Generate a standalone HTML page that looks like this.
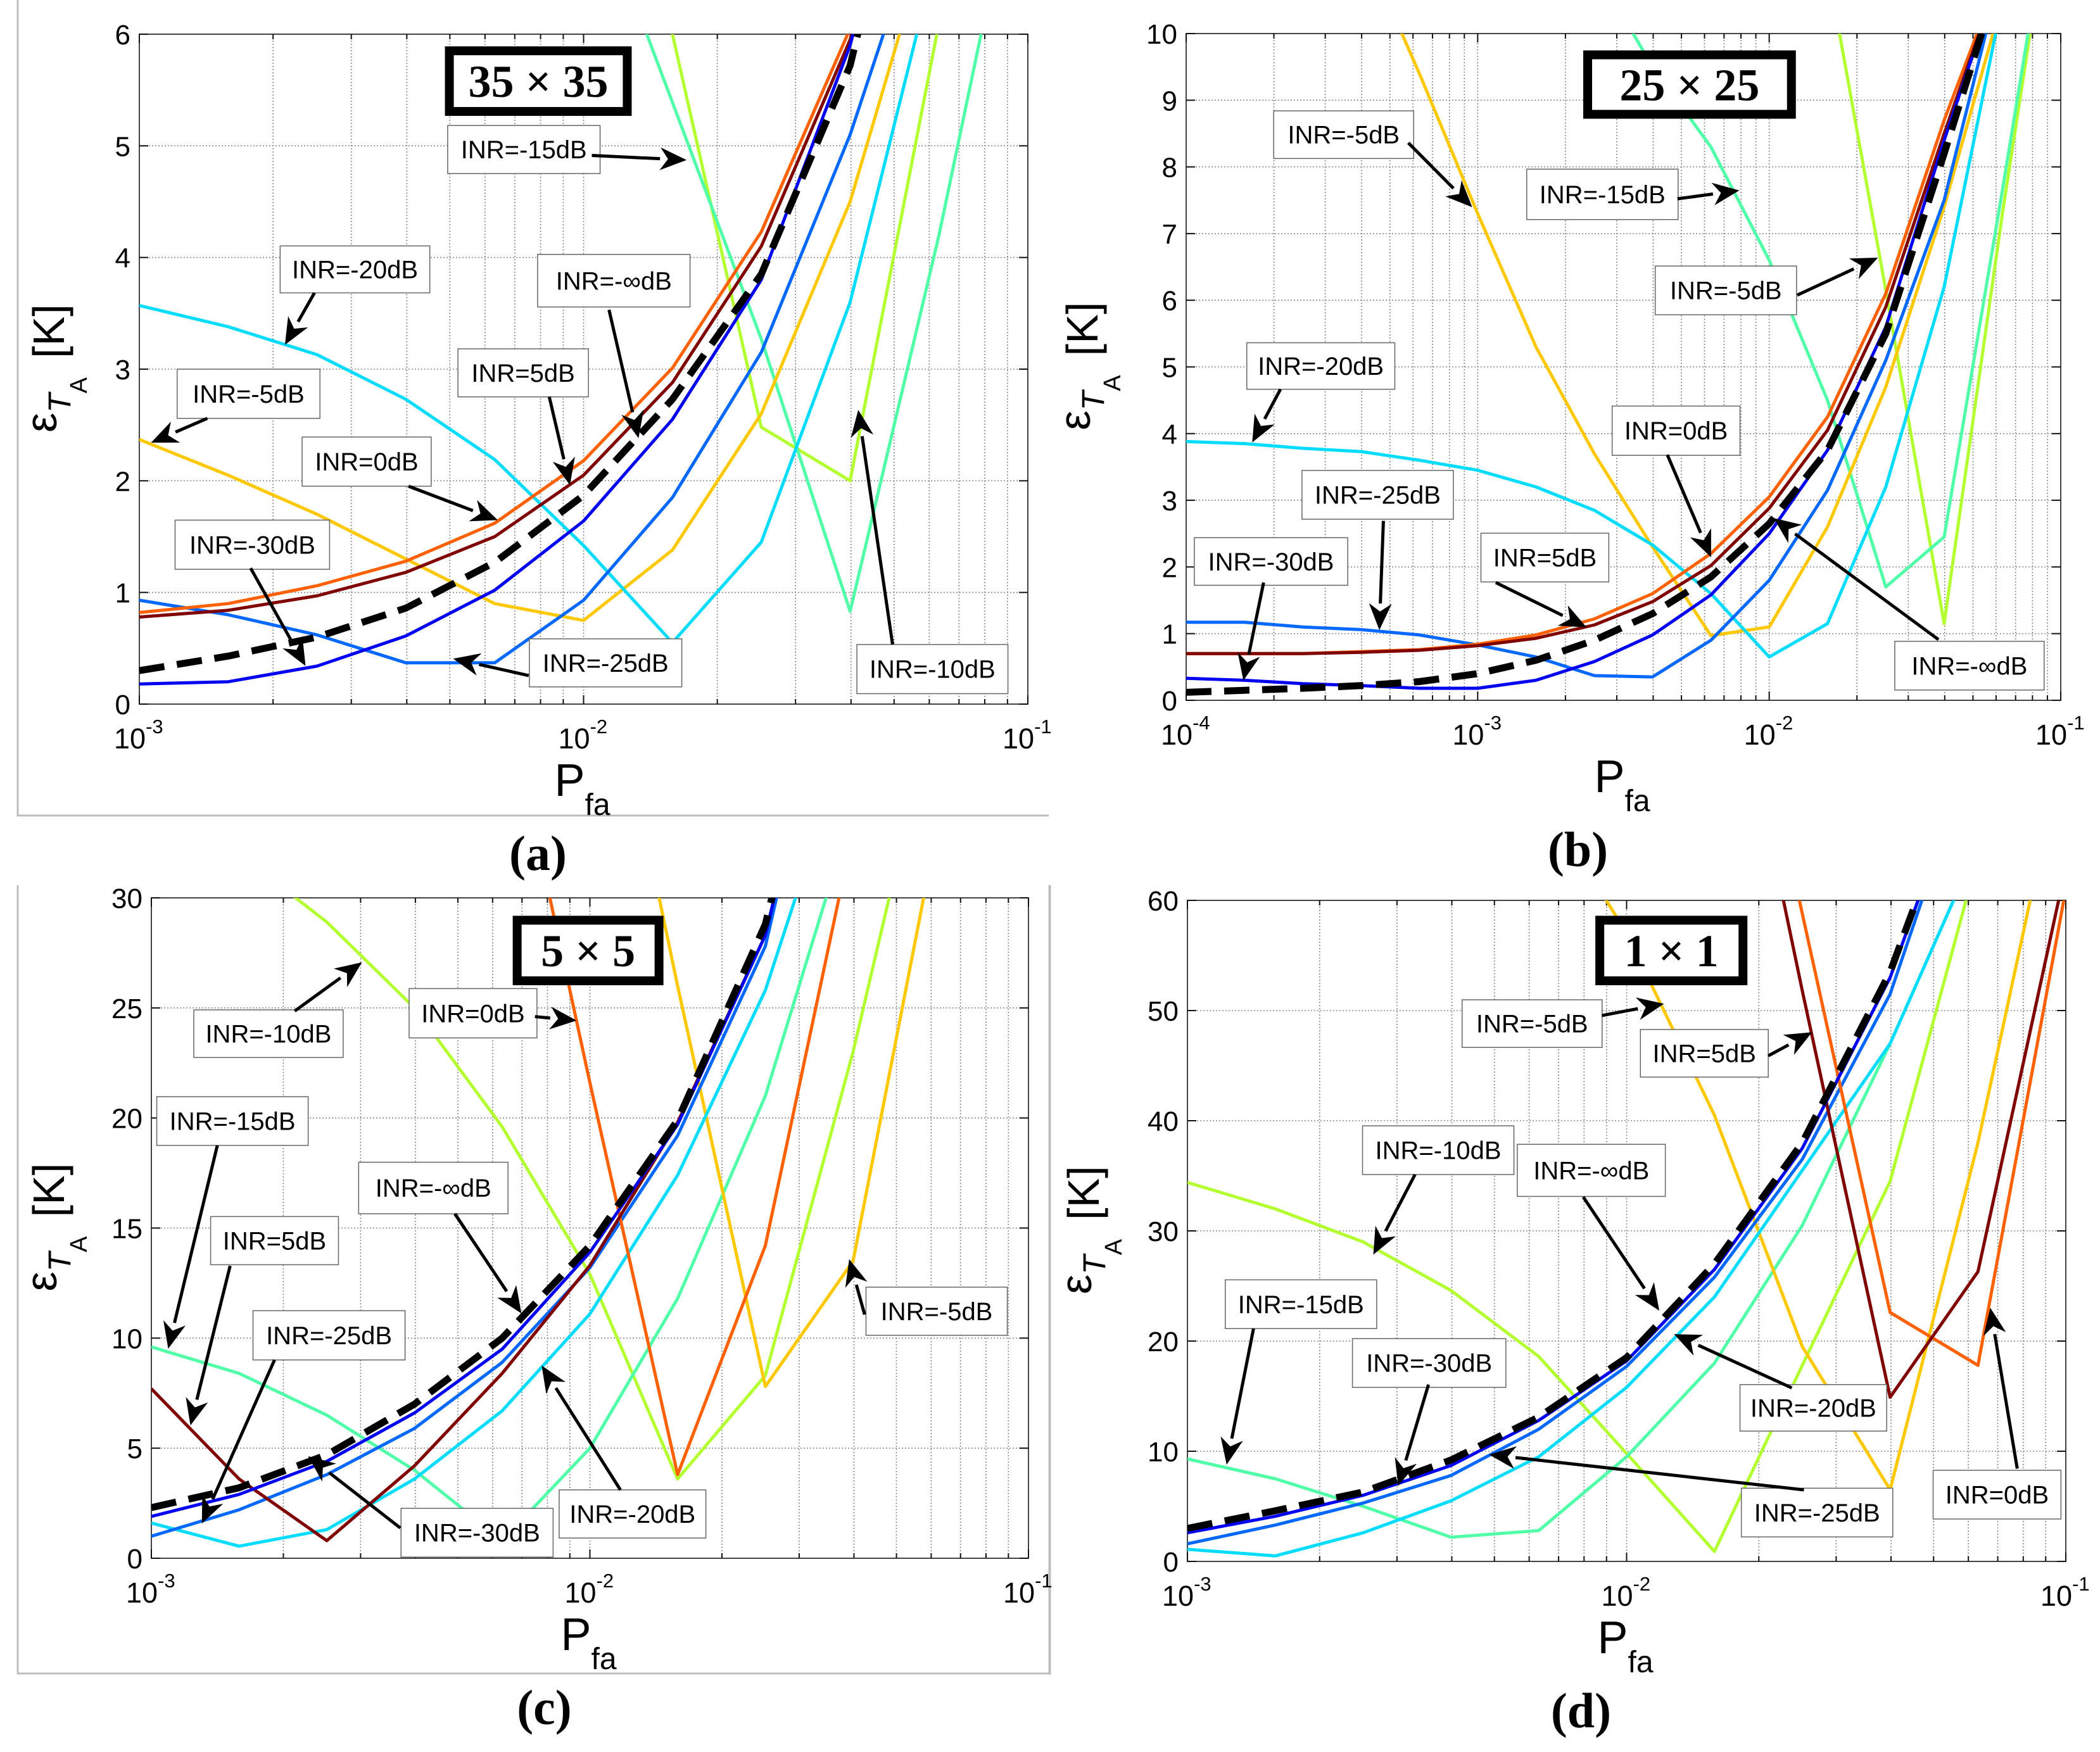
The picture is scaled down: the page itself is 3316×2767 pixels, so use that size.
<!DOCTYPE html>
<html><head><meta charset="utf-8">
<style>
html,body{margin:0;padding:0;background:#fff;}
svg{display:block;}
text{font-family:"Liberation Sans",Arial,sans-serif;}
</style></head>
<body>
<svg id="fig" xmlns="http://www.w3.org/2000/svg" width="3316" height="2767" viewBox="0 0 3316 2767">
<rect width="3316" height="2767" fill="#fff"/>
<g stroke="#bdbdbd" stroke-width="3" fill="none">
<path d="M28 0 V1288 H1656"/>
<path d="M28 1398 V2643 H1657 V1398"/>
<path d="M1658 1398 V2645"/>
</g>
</svg>
<script>
// ---------- data (Pfa grid as log10 values) ----------
const xsA = [-3,-2.8,-2.6,-2.4,-2.2,-2,-1.8,-1.6,-1.4,-1.2,-1];
const xsB = [-4,-3.8,-3.6,-3.4,-3.2,-3,-2.8,-2.6,-2.4,-2.2,-2,-1.8,-1.6,-1.4,-1.2,-1];
const xsC = [-3,-2.8,-2.6,-2.4,-2.2,-2,-1.8,-1.6,-1.4,-1.2,-1];
const xsD = [-3,-2.8,-2.6,-2.4,-2.2,-2,-1.8,-1.6,-1.4,-1.2,-1];

const a_inr5   = [0.78,0.84,0.97,1.18,1.5,2.05,2.88,4.1,5.95,9,12];
const a_inr0   = [0.82,0.9,1.06,1.28,1.62,2.18,3.01,4.23,6.05,9,12];
const a_inrm5  = [2.37,2.05,1.7,1.3,0.9,0.75,1.38,2.6,4.5,7.2,10];
const a_inrm10 = [14,13,12,11,10.5,9.5,6.0,2.48,2.0,6.1,10];
const a_inrm15 = [12,11,10,9,8.5,7.5,5.39,3.27,0.83,4.2,8];
const a_inrm20 = [3.57,3.38,3.13,2.73,2.19,1.42,0.55,1.45,3.6,6.8,10];
const a_inrm25 = [0.93,0.8,0.62,0.37,0.37,0.93,1.85,3.15,5.1,7.5,10];
const a_inrm30 = [0.18,0.2,0.34,0.61,1.02,1.64,2.55,3.8,5.9,9,12];
const a_inrinf = [0.3,0.43,0.6,0.86,1.27,1.87,2.73,3.85,5.72,9,12];

const b_inr5   = [0.7,0.7,0.7,0.72,0.75,0.82,0.93,1.13,1.48,2.02,2.88,4.05,5.9,8.5,11,14];
const b_inr0   = [0.7,0.7,0.7,0.73,0.76,0.84,0.98,1.22,1.6,2.2,3.05,4.25,6.1,8.7,11,14];
const b_inrm5  = [16,15,13.5,11.4,9.4,7.3,5.3,3.7,2.3,0.97,1.1,2.6,4.7,7.4,10.5,14];
const b_inrm10 = [20,19,18,17,16,15,14,13,12.5,12,11.5,11,6.15,1.15,7.3,13];
const b_inrm15 = [16,15.5,15,14.5,14,13.5,13,11,9.5,8.3,6.6,4.5,1.7,2.45,7.65,13];
const b_inrm20 = [3.88,3.85,3.78,3.73,3.6,3.45,3.2,2.85,2.33,1.6,0.65,1.15,3.2,6.2,10.5,14];
const b_inrm25 = [1.17,1.17,1.1,1.06,0.98,0.83,0.65,0.37,0.35,0.9,1.8,3.15,5.1,7.5,11,14];
const b_inrm30 = [0.33,0.3,0.25,0.22,0.18,0.18,0.3,0.58,0.98,1.58,2.5,3.75,5.6,8.4,11,14];
const b_inrinf = [0.12,0.15,0.18,0.22,0.28,0.4,0.6,0.9,1.3,1.85,2.65,3.75,5.5,8.2,11,14];

const c_inr5   = [7.7,3.6,0.8,4.2,8.4,13.3,19.8,28.3,45,60,80];
const c_inr0   = [60,55,50,45,40,21.6,3.8,14.2,33,50,70];
const c_inrm5  = [70,65,60,55,50,45,26,7.8,13.5,34,50];
const c_inrm10 = [36,32,28.9,25,19.6,12.9,3.6,8.3,23,40,55];
const c_inrm15 = [9.6,8.4,6.5,4.0,0.8,5.0,11.8,21,34,50,65];
const c_inrm20 = [1.6,0.55,1.3,3.6,6.7,11.1,17.4,25.8,38,55,70];
const c_inrm25 = [1.0,2.2,3.8,5.9,8.9,13.2,19.2,27.8,45,60,80];
const c_inrm30 = [1.9,2.9,4.4,6.6,9.5,13.9,19.7,28.3,45,60,80];
const c_inrinf = [2.3,3.2,4.7,7.0,10,14.2,19.9,28.8,45,60,80];

const d_inr5   = [140,130,120,110,100,95,90,51.8,14.9,26.3,63];
const d_inr0   = [140,130,120,110,100,97,95,58.8,22.6,17.8,61];
const d_inrm5  = [110,100,90,80,70,57,40.5,19.5,6.5,38,75];
const d_inrm10 = [34.4,32,29,24.6,18.6,9.8,0.9,17.8,34.5,64,90];
const d_inrm15 = [9.3,7.5,5.0,2.2,2.8,9.5,18,30.5,47,65,90];
const d_inrm20 = [1.1,0.5,2.6,5.5,9.5,15.8,24,35.5,47,65,90];
const d_inrm25 = [1.6,3.3,5.3,7.8,12,17.7,25.8,36.5,51.5,75,100];
const d_inrm30 = [2.6,4.1,6.0,8.7,12.8,18.2,26.5,37.5,53,75,100];
const d_inrinf = [3.0,4.6,6.3,9.2,13.1,18.5,27,38,53.5,75,100];

const yTicksA = [0,1,2,3,4,5,6];
const yTicksB = [0,1,2,3,4,5,6,7,8,9,10];
const yTicksC = [0,5,10,15,20,25,30];
const yTicksD = [0,10,20,30,40,50,60];

// ---------- rendering ----------
const NS = 'http://www.w3.org/2000/svg';
const svg = document.getElementById('fig');
function mk(tag, attrs, parent){
  const e = document.createElementNS(NS, tag);
  for (const k in attrs) e.setAttribute(k, attrs[k]);
  (parent||svg).appendChild(e);
  return e;
}
const COL = {inr5:'#800000', inr0:'#ff6000', inrm5:'#ffc800', inrm10:'#b4ff32', inrm15:'#50ffa8', inrm20:'#00dcff', inrm25:'#0068ff', inrm30:'#0000f0'};

const panels = [
 {id:'a', L:220,R:1623,T:54,B:1112, xmin:-3,xmax:-1, ymax:6, yt:yTicksA, xs:xsA, ylx:101,
  s:{inr5:a_inr5,inr0:a_inr0,inrm5:a_inrm5,inrm10:a_inrm10,inrm15:a_inrm15,inrm20:a_inrm20,inrm25:a_inrm25,inrm30:a_inrm30,inf:a_inrinf},
  tf:[0,0,1700/1568,1400/1568], title:'35 × 35', titleBox:[648,82,272,123], cap:'(a)',
  ann:[[652,222,222,85,'INR=-15dB',862,275,1000,283],[408,435,218,83,'INR=-20dB',458,518,415,610],
       [783,450,222,93,'INR=-∞dB',887,548,930,775],[667,617,190,85,'INR=5dB',800,702,830,858],
       [258,653,208,87,'INR=-5dB',302,740,220,783],[440,773,188,87,'INR=0dB',595,860,725,920],
       [255,920,225,87,'INR=-30dB',365,1005,445,1178],[771,1130,222,85,'INR=-25dB',770,1195,660,1165],
       [1248,1140,220,87,'INR=-10dB',1300,1140,1250,725]]},
 {id:'b', L:1873,R:3254,T:53,B:1106, xmin:-4,xmax:-1, ymax:10, yt:yTicksB, xs:xsB, ylx:1733,
  s:{inr5:b_inr5,inr0:b_inr0,inrm5:b_inrm5,inrm10:b_inrm10,inrm15:b_inrm15,inrm20:b_inrm20,inrm25:b_inrm25,inrm30:b_inrm30,inf:b_inrinf},
  tf:[1650,0,1666/1568,1387/1568], title:'25 × 25', titleBox:[800,90,316,122], cap:'(b)',
  ann:[[340,198,208,85,'INR=-5dB',540,255,635,370],[716,302,225,90,'INR=-15dB',940,355,1032,340],
       [907,475,210,87,'INR=-5dB',1118,527,1238,460],[300,612,220,83,'INR=-20dB',350,695,308,790],
       [843,725,190,88,'INR=0dB',925,812,990,995],[382,840,225,87,'INR=-25dB',503,930,497,1125],
       [222,960,228,85,'INR=-30dB',325,1040,295,1215],[648,952,190,87,'INR=5dB',670,1040,805,1120],
       [1263,1145,222,87,'INR=-∞dB',1328,1142,1083,925]]},
 {id:'c', L:239,R:1624,T:1418,B:2461, xmin:-3,xmax:-1, ymax:30, yt:yTicksC, xs:xsC, ylx:101,
  s:{inr5:c_inr5,inr0:c_inr0,inrm5:c_inrm5,inrm10:c_inrm10,inrm15:c_inrm15,inrm20:c_inrm20,inrm25:c_inrm25,inrm30:c_inrm30,inf:c_inrinf},
  tf:[0,1380,1666/1568,1387/1568], title:'5 × 5', titleBox:[762,75,224,124], cap:'(c)',
  ann:[[288,243,222,85,'INR=-10dB',438,245,538,158],[608,205,190,88,'INR=0dB',795,255,857,262],
       [233,398,225,87,'INR=-15dB',323,485,250,848],[533,515,222,92,'INR=-∞dB',676,607,775,785],
       [313,612,190,86,'INR=5dB',342,700,283,985],[376,780,226,88,'INR=-25dB',408,868,300,1160],
       [1287,738,210,86,'INR=-5dB',1285,787,1262,688],[596,1133,226,87,'INR=-30dB',595,1168,458,1040],
       [831,1100,218,86,'INR=-20dB',922,1100,805,878]]},
 {id:'d', L:1875,R:3262,T:1422,B:2466, xmin:-3,xmax:-1, ymax:60, yt:yTicksD, xs:xsD, ylx:1735,
  s:{inr5:d_inr5,inr0:d_inr0,inrm5:d_inrm5,inrm10:d_inrm10,inrm15:d_inrm15,inrm20:d_inrm20,inrm25:d_inrm25,inrm30:d_inrm30,inf:d_inrinf},
  tf:[1650,1380,1666/1568,1387/1568], title:'1 × 1', titleBox:[818,75,226,124], cap:'(d)',
  ann:[[620,225,208,85,'INR=-5dB',828,253,920,232],[885,278,190,85,'INR=5dB',1075,325,1140,283],
       [472,450,225,87,'INR=-10dB',550,537,488,680],[702,483,220,93,'INR=-∞dB',800,577,913,780],
       [268,725,225,87,'INR=-15dB',310,812,270,1055],[457,830,228,87,'INR=-30dB',570,912,525,1093],
       [1033,912,218,83,'INR=-20dB',1110,918,935,822],[1035,1097,225,87,'INR=-25dB',1128,1100,660,1037],
       [1320,1065,190,87,'INR=0dB',1445,1062,1405,775]]}
];

const defs = mk('defs', {});
panels.forEach(p => {
  const xScale = v => p.L + (v - p.xmin) / (p.xmax - p.xmin) * (p.R - p.L);
  const yScale = v => p.B - v / p.ymax * (p.B - p.T);
  const tx = x => p.tf[0] + x * p.tf[2];
  const ty = y => p.tf[1] + y * p.tf[3];
  const g = mk('g', {});
  
  

  const cp = mk('clipPath', {id: 'clip-' + p.id}, defs);
  mk('rect', {x:p.L, y:p.T, width:p.R-p.L, height:p.B-p.T}, cp);

  // grid
  const grid = mk('g', {stroke:'#8a8a8a', 'stroke-width':1.6, 'stroke-dasharray':'2 3', fill:'none'}, g);
  
  
  for (let d = p.xmin; d < p.xmax; d++) {
    for (let m = 1; m <= 9; m++) {
      const X = xScale(d + Math.log10(m));
      if (m > 1 || d > p.xmin) mk('line', {x1:X, y1:p.T, x2:X, y2:p.B}, grid);
    }
  }
  p.yt.forEach(v => { if (v > 0 && v < p.ymax) mk('line', {x1:p.L, y1:yScale(v), x2:p.R, y2:yScale(v)}, grid); });

  // axes box
  const box = mk('rect', {x:p.L, y:p.T, width:p.R-p.L, height:p.B-p.T, fill:'none', stroke:'#444', 'stroke-width':2}, g);
  
  

  // ticks
  const tk = mk('g', {stroke:'#111', 'stroke-width':2}, g);
  for (let d = p.xmin; d <= p.xmax; d++) for (let m = 1; m <= 9; m++) {
    if (d === p.xmax && m > 1) break;
    const X = xScale(d + Math.log10(m)); const len = m === 1 ? 14 : 8;
    mk('line', {x1:X, y1:p.B, x2:X, y2:p.B-len}, tk);
    mk('line', {x1:X, y1:p.T, x2:X, y2:p.T+len}, tk);
  }
  p.yt.forEach(v => {
    mk('line', {x1:p.L, y1:yScale(v), x2:p.L+14, y2:yScale(v)}, tk);
    mk('line', {x1:p.R, y1:yScale(v), x2:p.R-14, y2:yScale(v)}, tk);
  });

  // y tick labels
  p.yt.forEach(v => {
    const t = mk('text', {x:p.L-14, y:yScale(v)+16, 'font-size':44, 'text-anchor':'end', fill:'#000'}, g);
    
    
    t.textContent = String(v);
  });
  // x tick labels
  for (let d = p.xmin; d <= p.xmax; d++) {
    const t = mk('text', {x:xScale(d)-40, y:p.B+70, 'font-size':45, fill:'#000'}, g);
    
    
    t.textContent = '10';
    const s = mk('tspan', {dy:-24, 'font-size':31}, t); s.textContent = String(d);
  }

  // axis labels
  const cx = (p.L + p.R) / 2;
  const xl = mk('text', {x:cx-46, y:p.B+145, 'font-size':72, fill:'#000'}, g);
  
  
  xl.textContent = 'P';
  const xs2 = mk('tspan', {dy:30, 'font-size':48}, xl); xs2.textContent = 'fa';

  const yc = (p.T + p.B) / 2;
  const yl = mk('text', {transform:'translate(' + p.ylx + ',' + (yc+100) + ') rotate(-90)', 'font-size':70, fill:'#000'}, g);
  
  
  const e1 = mk('tspan', {dy:-12}, yl); e1.textContent = 'ε';
  const e2 = mk('tspan', {dy:22, 'font-size':50, 'font-style':'italic'}, yl); e2.textContent = 'T';
  const e3 = mk('tspan', {dy:26, 'font-size':38}, yl); e3.textContent = 'A';
  const e4 = mk('tspan', {dy:-36, dx:30}, yl); e4.textContent = '[K]';

  // series
  const sg = mk('g', {'clip-path':'url(#clip-' + p.id + ')', fill:'none', 'stroke-linejoin':'round'}, g);
  const order = ['inrm10','inrm15','inrm5','inrm20','inrm25','inr0','inr5','inrm30','inf'];
  order.forEach(k => {
    const vals = p.s[k];
    const d = vals.map((v, i) => (i ? 'L' : 'M') + xScale(p.xs[i]).toFixed(1) + ' ' + yScale(v).toFixed(1)).join(' ');
    const isInf = k === 'inf';
    const path = mk('path', {d:d, stroke:isInf ? '#000' : COL[k], 'stroke-width':isInf ? 11 : 5, 'stroke-dasharray':isInf ? '40 20' : 'none'}, sg);
    
    
  });

  // annotations
  p.ann.forEach(a => {
    const ag = mk('g', {}, g);
    
    
    const x = tx(a[0]), y = ty(a[1]), w = a[2]*p.tf[2], h = a[3]*p.tf[3];
    mk('rect', {x:x, y:y, width:w, height:h, fill:'#fff', stroke:'#666', 'stroke-width':1.5}, ag);
    const t = mk('text', {x:x+w/2, y:y+h/2+14, 'font-size':40, 'text-anchor':'middle', fill:'#000'}, ag);
    t.textContent = a[4];
    const x1 = tx(a[5]), y1 = ty(a[6]), x2 = tx(a[7]), y2 = ty(a[8]);
    const ang = Math.atan2(y2-y1, x2-x1), L = 42, W = 18;
    const bx = x2 - L*Math.cos(ang), by = y2 - L*Math.sin(ang);
    mk('line', {x1:x1, y1:y1, x2:bx, y2:by, stroke:'#000', 'stroke-width':5}, ag);
    const pts = [[x2,y2],[bx - W*Math.sin(ang), by + W*Math.cos(ang)],[x2 - 0.7*L*Math.cos(ang), y2 - 0.7*L*Math.sin(ang)],[bx + W*Math.sin(ang), by - W*Math.cos(ang)]];
    mk('polygon', {points:pts.map(q => q[0].toFixed(1)+','+q[1].toFixed(1)).join(' '), fill:'#000'}, ag);
  });

  // title box
  const tb = p.titleBox;
  const tg = mk('g', {}, g);
  
  
  const bx0 = tx(tb[0]), by0 = ty(tb[1]), bw = tb[2]*p.tf[2], bh = tb[3]*p.tf[3];
  mk('rect', {x:bx0+7, y:by0+7, width:bw-14, height:bh-14, fill:'#fff', stroke:'#000', 'stroke-width':14}, tg);
  const tt = mk('text', {x:bx0+bw/2, y:by0+bh/2+25, 'font-size':72, 'font-weight':'bold', 'text-anchor':'middle', fill:'#000', style:'font-family:"Liberation Serif",serif'}, tg);
  tt.textContent = p.title;

  // caption
  const cap = mk('text', {x:cx-72, y:p.B+262, 'font-size':78, 'font-weight':'bold', 'text-anchor':'middle', fill:'#000', style:'font-family:"Liberation Serif",serif'}, g);
  
  
  cap.textContent = p.cap;
});
</script>
</body></html>
